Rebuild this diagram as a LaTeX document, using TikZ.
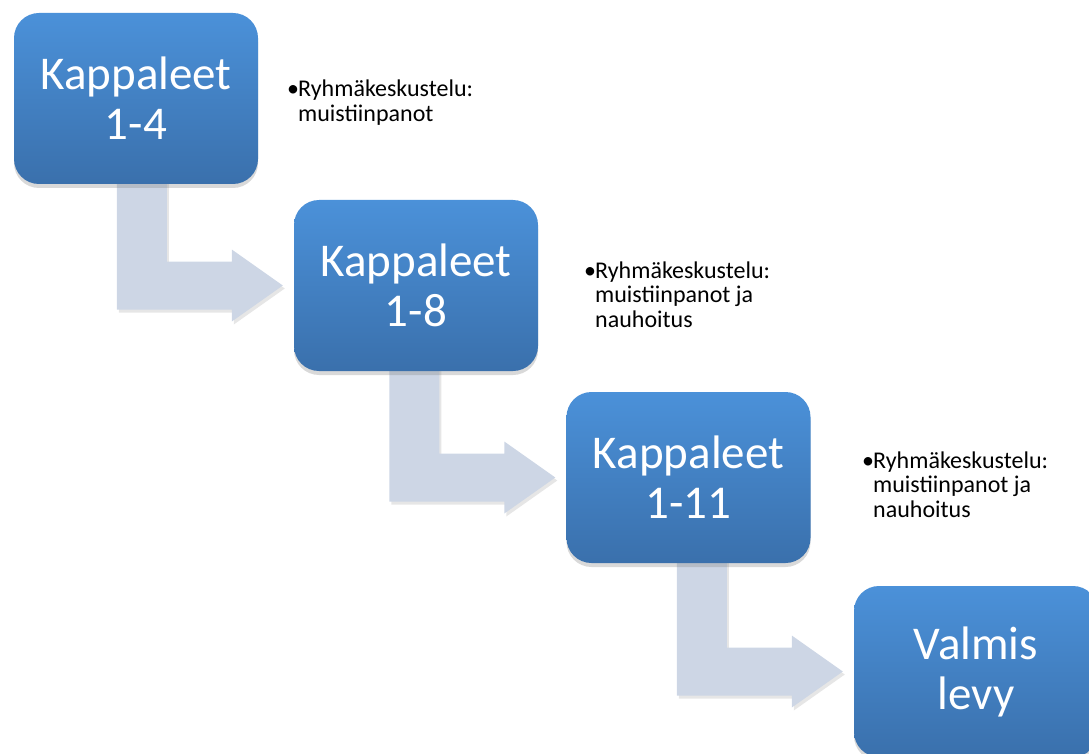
\documentclass[tikz,border=0pt]{standalone}
\usepackage{fontspec}
\setmainfont{Carlito}
\usetikzlibrary{calc,shadows}
\definecolor{boxtop}{RGB}{75,145,217}
\definecolor{boxbot}{RGB}{58,112,172}
\definecolor{arrowfill}{RGB}{205,214,229}
\pgfdeclarelayer{background}
\pgfsetlayers{background,main}
\tikzset{
  stage/.style={rectangle, rounded corners=25pt, minimum width=244pt, minimum height=171pt,
    top color=boxtop, bottom color=boxbot, draw=none, text=white,
    font=\fontsize{47}{50}\selectfont, align=center,
    drop shadow={shadow xshift=0pt, shadow yshift=-4pt, opacity=0.3}},
  note/.style={font=\fontsize{24}{24.5}\selectfont, align=left, anchor=base west, inner sep=0pt, text=black},
  bent/.style={fill=arrowfill, drop shadow={shadow xshift=2pt, shadow yshift=-3pt, opacity=0.2}}
}
\newcommand\bentarrow[2]{%
  \path[bent] let \p1=(#1.south), \p2=(#2.west) in
    (\x2-177pt,\y1+5pt) -- (\x2-127pt,\y1+5pt) -- (\x2-127pt,\y2+24pt) --
    (\x2-62pt,\y2+24pt) -- (\x2-62pt,\y2+36pt) -- (\x2-11pt,\y2) --
    (\x2-62pt,\y2-36pt) -- (\x2-62pt,\y2-24pt) -- (\x2-177pt,\y2-24pt) -- cycle;}
\begin{document}
\begin{tikzpicture}[x=1pt,y=-1pt]
  \clip (0,0) rectangle (1089,754);
  \node[stage] (b1) at (136,98.5) {Kappaleet\\1-4};
  \node[stage] (b2) at (416,285.5) {Kappaleet\\1-8};
  \node[stage] (b3) at (688.5,477.5) {Kappaleet\\1-11};
  \node[stage] (b4) at (976,671.5) {Valmis\\levy};
  \begin{pgfonlayer}{background}
    \bentarrow{b1}{b2}
    \bentarrow{b2}{b3}
    \bentarrow{b3}{b4}
  \end{pgfonlayer}
  \node[note] (n1) at (287,121.5) {\makebox[11pt][l]{•}Ryhmäkeskustelu:\\\hspace*{11pt}muistiinpanot};
  \node[note] (n2) at (584,327) {\makebox[11pt][l]{•}Ryhmäkeskustelu:\\\hspace*{11pt}muistiinpanot ja\\\hspace*{11pt}nauhoitus};
  \node[note] (n3) at (862,517) {\makebox[11pt][l]{•}Ryhmäkeskustelu:\\\hspace*{11pt}muistiinpanot ja\\\hspace*{11pt}nauhoitus};
\end{tikzpicture}
\end{document}
